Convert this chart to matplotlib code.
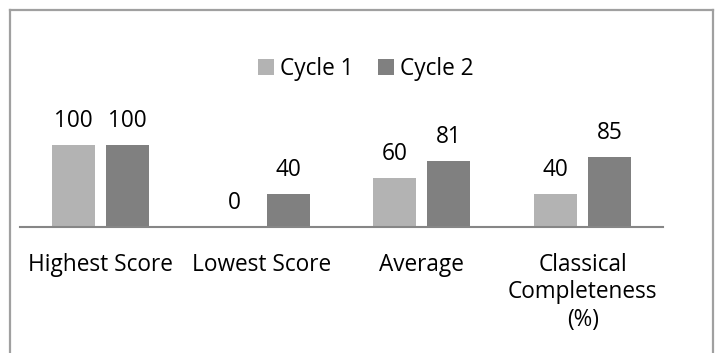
import numpy as np
import matplotlib.pyplot as plt
from matplotlib.lines import Line2D

categories = ['Highest Score', 'Lowest Score', 'Average', 'Classical\nCompleteness\n(%)']
cycle1 = [100, 0, 60, 40]
cycle2 = [100, 40, 81, 85]

plt.rcParams['font.family'] = ['Open Sans', 'DejaVu Sans']
fs = 16.3

fig = plt.figure(figsize=(7.15, 3.53), dpi=100)
ax = fig.add_axes([20 / 715, 1 - 227 / 353, 643 / 715, 98.4 / 353])

x = np.arange(len(categories))
w = 0.267
off = 0.168
b1 = ax.bar(x - off, cycle1, w, color='#b3b3b3', label='Cycle 1')
b2 = ax.bar(x + off, cycle2, w, color='#808080', label='Cycle 2')

for bars, vals in ((b1, cycle1), (b2, cycle2)):
    for bar, v in zip(bars, vals):
        ax.annotate(str(v), (bar.get_x() + bar.get_width() / 2, v),
                    xytext=(0, 17.3), textcoords='offset points',
                    ha='center', va='center', fontsize=fs)

ax.set_xlim(-0.5, 3.5)
ax.set_ylim(0, 120)
ax.set_xticks(x)
ax.set_xticklabels(categories, fontsize=fs, linespacing=1.2)
ax.tick_params(axis='x', length=0, pad=18.5)
ax.set_yticks([])
for s in ('top', 'right', 'left'):
    ax.spines[s].set_visible(False)
ax.spines['bottom'].set_color('#868686')
ax.spines['bottom'].set_linewidth(1.5)

fig.legend(loc='center', bbox_to_anchor=(366 / 715, 1 - 69 / 353), ncol=2,
           frameon=False, fontsize=fs, handlelength=0.7, handleheight=0.7,
           handletextpad=0.25, columnspacing=1.1)

# outer chart border (open at the bottom)
border = dict(color='#a0a0a0', lw=1.6, transform=fig.transFigure)
fig.add_artist(Line2D([9.5 / 715, 9.5 / 715], [0, 1 - 9.5 / 353], **border))
fig.add_artist(Line2D([9.5 / 715, 712.5 / 715], [1 - 9.5 / 353, 1 - 9.5 / 353], **border))
fig.add_artist(Line2D([712.5 / 715, 712.5 / 715], [0, 1 - 9.5 / 353], **border))

fig.savefig('out.png', dpi=100)
